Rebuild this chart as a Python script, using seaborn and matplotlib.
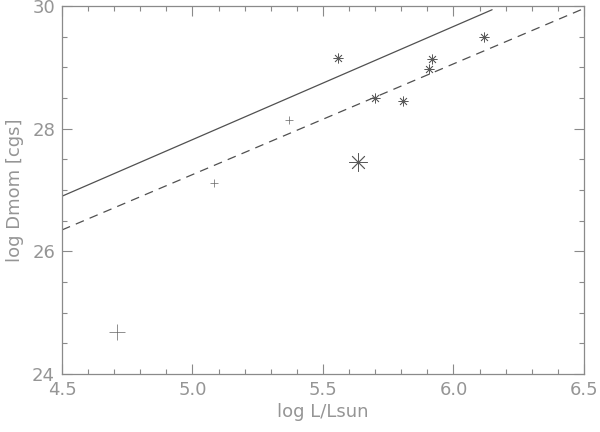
import matplotlib
matplotlib.use("Agg")
import matplotlib.pyplot as plt
import seaborn as sns
import pandas as pd
import numpy as np
from matplotlib.ticker import MultipleLocator

# Data
ast_x = [5.556, 5.699, 5.808, 5.906, 5.916, 6.116]
ast_y = [29.15, 28.50, 28.45, 28.97, 29.13, 29.50]
big_ast_x = [5.635]
big_ast_y = [27.45]
plus_x = [5.084, 5.368]
plus_y = [27.11, 28.15]
big_plus_x = [4.711]
big_plus_y = [24.69]
solid_x = [4.5, 6.148]
solid_y = [26.90, 29.94]
dash_x = [4.5, 6.5]
dash_y = [26.35, 29.96]

sns.set_style("ticks")
plt.rcParams['font.family'] = ['DejaVu Sans']

fig = plt.figure(figsize=(6.0, 4.32), dpi=100)
ax = fig.add_axes([0.1033, 0.134, 0.87, 0.852])

line_col = "#505050"
txt_col = "#959595"

sns.lineplot(x=solid_x, y=solid_y, ax=ax, color=line_col, lw=0.9, sort=False)
sns.lineplot(x=dash_x, y=dash_y, ax=ax, color=line_col, lw=0.9, sort=False,
             linestyle=(0, (7, 5)))

ast_marker = (8, 2, 0)
sns.scatterplot(x=ast_x, y=ast_y, ax=ax, marker=ast_marker, s=45,
                color="#5a5a5a", linewidth=0.55, edgecolor="#5a5a5a")
sns.scatterplot(x=big_ast_x, y=big_ast_y, ax=ax, marker=ast_marker, s=160,
                color="#5a5a5a", linewidth=0.6, edgecolor="#5a5a5a")
sns.scatterplot(x=plus_x, y=plus_y, ax=ax, marker='+', s=30,
                color="#707070", linewidth=0.55)
sns.scatterplot(x=big_plus_x, y=big_plus_y, ax=ax, marker='+', s=140,
                color="#707070", linewidth=0.55)

ax.set_xlim(4.5, 6.5)
ax.set_ylim(24, 30)
ax.xaxis.set_major_locator(MultipleLocator(0.5))
ax.xaxis.set_minor_locator(MultipleLocator(0.1))
ax.yaxis.set_major_locator(MultipleLocator(2))
ax.yaxis.set_minor_locator(MultipleLocator(0.5))
ax.xaxis.set_major_formatter(matplotlib.ticker.FormatStrFormatter('%.1f'))
ax.yaxis.set_major_formatter(matplotlib.ticker.FormatStrFormatter('%d'))

for sp in ax.spines.values():
    sp.set_visible(True)
    sp.set_color("#8a8a8a")
    sp.set_linewidth(0.9)

ax.tick_params(which='both', direction='in', top=True, right=True,
               color="#8a8a8a", labelcolor=txt_col, labelsize=13, width=0.8)
ax.tick_params(which='major', length=7, pad=5)
ax.tick_params(which='minor', length=3.5)

ax.set_xlabel("log L/Lsun", color=txt_col, fontsize=13, labelpad=3)
ax.set_ylabel("log Dmom [cgs]", color=txt_col, fontsize=13, labelpad=6)

fig.savefig("out.png", dpi=100)
